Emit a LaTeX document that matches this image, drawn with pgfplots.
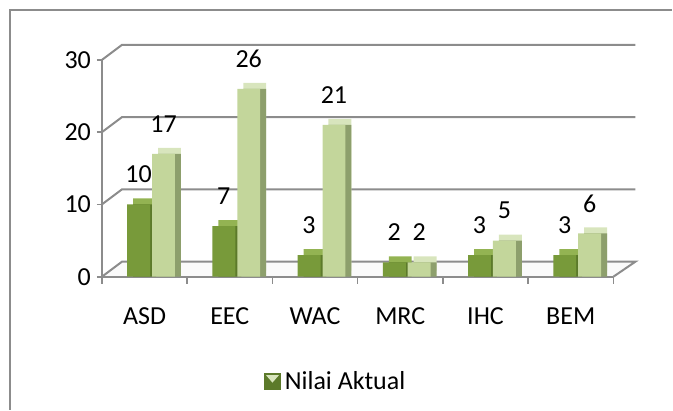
\documentclass[border=0pt]{standalone}
\usepackage{fontspec}
\setmainfont{Carlito}
\usepackage{pgfplots}
\pgfplotsset{compat=1.18}
\definecolor{dkF}{HTML}{789A3A}
\definecolor{dkT}{HTML}{93B352}
\definecolor{dkS}{HTML}{5C7A2A}
\definecolor{ltF}{HTML}{C3D69B}
\definecolor{ltT}{HTML}{D8E5BD}
\definecolor{ltS}{HTML}{8D9F6C}
\definecolor{gridc}{HTML}{8C8C8C}
\newcommand\fs{\fontsize{13}{15.6}\selectfont}
\begin{document}
\begin{tikzpicture}
\begin{axis}[
  set layers,
  scale only axis, width=256pt, height=108.5pt,
  at={(51pt,66.5pt)}, anchor=south west,
  xmin=-0.5, xmax=5.5, ymin=0, ymax=30,
  clip=false,
  axis x line*=bottom, axis y line*=left,
  axis line style={gridc, line width=1pt, -},
  ytick={0,10,20,30},
  tick align=outside,
  major tick length=2.5pt,
  ytick style={gridc, line width=0.8pt},
  yticklabel style={xshift=0.5pt},
  xtick={0,...,5},
  xticklabels={ASD,EEC,WAC,MRC,IHC,BEM},
  xtick style={draw=none},
  extra x ticks={-0.5,0.5,1.5,2.5,3.5,4.5,5.5},
  extra x tick labels={},
  extra x tick style={xtick style={draw=gridc, line width=0.8pt}, major tick length=3.5pt},
  tick label style={font=\fs},
  xticklabel style={yshift=-9.5pt},
  /pgf/number format/assume math mode=true,
  ybar, bar width=11.5pt,
  every node near coord/.append style={font=\fs, anchor=center, yshift=15pt, text=black},
  legend style={at={(0.459,-0.484)}, anchor=center, draw=none, font=\fs, fill=none},
]
\begin{pgfonlayer}{axis background}
\fill[gray!4] (axis cs:-0.5,0) -- (axis cs:5.5,0) -- ([shift={(11pt,7.5pt)}]axis cs:5.5,0) -- ([shift={(10pt,7.5pt)}]axis cs:-0.5,0) -- cycle;
\draw[gridc, line width=1pt] (axis cs:-0.5,0) -- ++(10pt,7.5pt) -- ([shift={(11pt,7.5pt)}]axis cs:5.5,0) -- (axis cs:5.5,0);
\draw[gridc, line width=1pt] (axis cs:-0.5,10) -- ++(10pt,7.5pt) -- ([shift={(11pt,7.5pt)}]axis cs:5.5,10);
\draw[gridc, line width=1pt] (axis cs:-0.5,20) -- ++(10pt,7.5pt) -- ([shift={(11pt,7.5pt)}]axis cs:5.5,20);
\draw[gridc, line width=1pt] (axis cs:-0.5,30) -- ++(10pt,7.5pt) -- ([shift={(11pt,7.5pt)}]axis cs:5.5,30);
\end{pgfonlayer}
% dark series
\addplot[forget plot, draw=none, fill=dkT, bar shift=-3pt, xshift=3pt, yshift=3pt] coordinates {(0,10) (1,7) (2,3) (3,2) (4,3) (5,3)};
\addplot[forget plot, draw=none, fill=dkS, bar shift=-3pt, xshift=3pt] coordinates {(0,10) (1,7) (2,3) (3,2) (4,3) (5,3)};
\addplot[draw=none, fill=dkF, bar shift=-3pt, nodes near coords,
  legend image code/.code={
    \fill[dkF] (0pt,-4pt) rectangle (8pt,4pt);
    \draw[dkS, line width=0.4pt] (0pt,-4pt) rectangle (8pt,4pt);
    \fill[ltT] (0.8pt,3.2pt) -- (7.2pt,3.2pt) -- (4pt,-0.5pt) -- cycle;
  }] coordinates {(0,10) (1,7) (2,3) (3,2) (4,3) (5,3)};
\addlegendentry{Nilai Aktual}
% light series
\addplot[forget plot, draw=none, fill=ltT, bar shift=9.5pt, xshift=3pt, yshift=3pt] coordinates {(0,17) (1,26) (2,21) (3,2) (4,5) (5,6)};
\addplot[forget plot, draw=none, fill=ltS, bar shift=9.5pt, xshift=3pt] coordinates {(0,17) (1,26) (2,21) (3,2) (4,5) (5,6)};
\addplot[forget plot, draw=none, fill=ltF, bar shift=9.5pt, nodes near coords] coordinates {(0,17) (1,26) (2,21) (3,2) (4,5) (5,6)};
\end{axis}
\draw[gridc, line width=0.7pt] (5pt,0pt) -- (5pt,200pt) -- (336.5pt,200pt);
\path (0,0) rectangle (336.5pt,205pt);
\end{tikzpicture}
\end{document}
